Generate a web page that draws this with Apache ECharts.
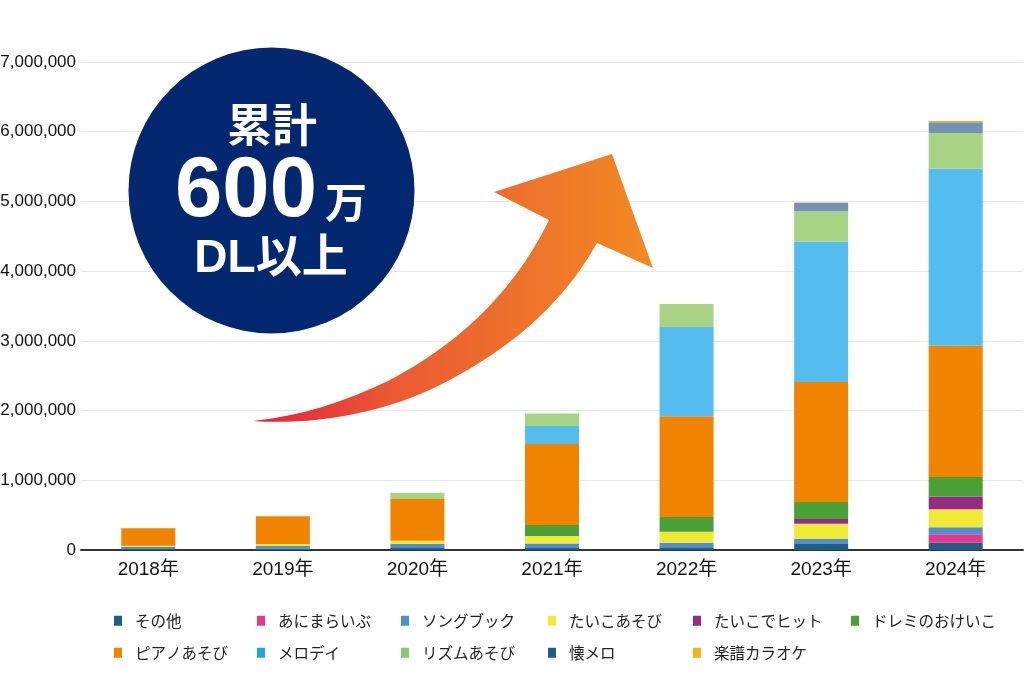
<!DOCTYPE html>
<html>
<head>
<meta charset="utf-8">
<style>html,body{margin:0;padding:0;background:#fff}#container{width:1024px;height:678px}</style>
<script src="https://cdn.jsdelivr.net/npm/echarts@6/dist/echarts.min.js"></script>
</head>
<body>
<div id="container"></div>
<script>
var dom = document.getElementById("container");
var myChart = echarts.init(dom);
var font = '"Liberation Sans","Noto Sans CJK JP",sans-serif';
var jpFont = '"Noto Sans CJK JP",sans-serif';

var years = ['2018年','2019年','2020年','2021年','2022年','2023年','2024年'];

// color = bar, legend = legend chip, pos = legend position
var rows = [
    {name:'その他',        color:'#215e85', legend:'#215e85', pos:[114,613], data:[15000,20000,30000,30000,38000,86000,105000]},
    {name:'あにまらいぶ',  color:'#e5398c', legend:'#e5398c', pos:[257,613], data:[0,0,0,0,0,0,120000]},
    {name:'ソングブック',  color:'#4f8ecf', legend:'#4f8ecf', pos:[401,613], data:[28000,37000,56000,65000,67000,72000,100000]},
    {name:'たいこあそび',  color:'#f0e936', legend:'#f0e936', pos:[548,613], data:[19000,29000,48000,105000,158000,220000,259000]},
    {name:'たいこでヒット',color:'#962a87', legend:'#962a87', pos:[693,613], data:[0,0,0,0,0,67000,182000]},
    {name:'ドレミのおけいこ',color:'#4ca038',legend:'#4ca038',pos:[851,613], data:[0,0,0,159000,211000,244000,282000]},
    {name:'ピアノあそび',  color:'#f08300', legend:'#f08300', pos:[114,645], data:[249000,397000,598000,1161000,1445000,1721000,1882000]},
    {name:'メロデイ',      color:'#55bdee', legend:'#1ea7e1', pos:[257,645], data:[0,0,0,260000,1281000,2010000,2540000]},
    {name:'リズムあそび',  color:'#a9d384', legend:'#8cc76f', pos:[401,645], data:[0,0,91000,177000,330000,440000,510000]},
    {name:'懐メロ',        color:'#7590b5', legend:'#215e85', pos:[548,645], data:[0,0,0,0,0,120000,155000]},
    {name:'楽譜カラオケ',  color:'#f5b21b', legend:'#f5b21b', pos:[693,645], data:[0,0,0,0,0,5000,20000]}
];

var arrow = 'M253 421 C300 416 345 402 390 380 C450 348 510 300 549 220 L494 192 L612 154 L653 268 L597 243' +
    ' C560 310 500 355 440 385 C380 415 310 425 253 421 Z';
echarts.graphic.registerShape('bigArrow', echarts.graphic.extendPath(arrow));

var option = {
    animation: false,
    grid: {left: 81, right: 1, top: 62, bottom: 128, outerBoundsMode: 'none'},
    xAxis: {
        type: 'category',
        data: years,
        axisTick: {show: false},
        axisLine: {lineStyle: {color: '#333', width: 2}},
        axisLabel: {color: '#111', fontFamily: font, fontSize: 19, margin: 10}
    },
    yAxis: {
        type: 'value',
        min: 0,
        max: 7000000,
        interval: 1000000,
        axisLine: {show: false},
        axisTick: {show: false},
        splitLine: {lineStyle: {color: '#e8e8ec'}},
        axisLabel: {
            color: '#111', fontFamily: font, fontSize: 17, margin: 5, padding: [4, 0, 0, 0],
            formatter: function (v) { return v.toLocaleString('en-US'); }
        }
    },
    legend: rows.map(function (r) {
        return {
            left: r.pos[0],
            top: r.pos[1],
            padding: 0,
            itemWidth: 8,
            itemHeight: 10,
            itemGap: 0,
            icon: 'rect',
            textStyle: {color: '#222', fontFamily: jpFont, fontSize: 15.5, padding: [0, 0, 0, 8]},
            data: [{name: r.name, itemStyle: {color: r.legend}}]
        };
    }),
    series: rows.map(function (r) {
        return {
            name: r.name,
            type: 'bar',
            stack: 'dl',
            barWidth: 54,
            itemStyle: {color: r.color},
            data: r.data
        };
    }),
    graphic: [
        {
            type: 'bigArrow',
            z: 20,
            style: {
                fill: new echarts.graphic.LinearGradient(0, 0, 1, 0, [
                    {offset: 0, color: '#e61f3c'},
                    {offset: 0.35, color: '#ea5a33'},
                    {offset: 1, color: '#f18a22'}
                ])
            }
        },
        {type: 'circle', z: 20, shape: {cx: 271.5, cy: 190.5, r: 143}, style: {fill: '#03286f'}},
        {type: 'text', z: 21, x: 272, y: 125, style: {text: '累計', fill: '#fff', font: 'bold 45px ' + jpFont, align: 'center', verticalAlign: 'middle'}},
        {type: 'text', z: 21, x: 246, y: 193, style: {text: '600', fill: '#fff', font: 'bold 85px ' + font, align: 'center', verticalAlign: 'middle'}},
        {type: 'text', z: 21, x: 346, y: 202, style: {text: '万', fill: '#fff', font: 'bold 42px ' + jpFont, align: 'center', verticalAlign: 'middle'}},
        {type: 'text', z: 21, x: 271, y: 259, style: {text: 'DL以上', fill: '#fff', font: 'bold 46px ' + font, align: 'center', verticalAlign: 'middle'}}
    ]
};

myChart.setOption(option, true);
window.addEventListener('resize', function () {
    myChart.resize();
});
</script>
</body>
</html>
